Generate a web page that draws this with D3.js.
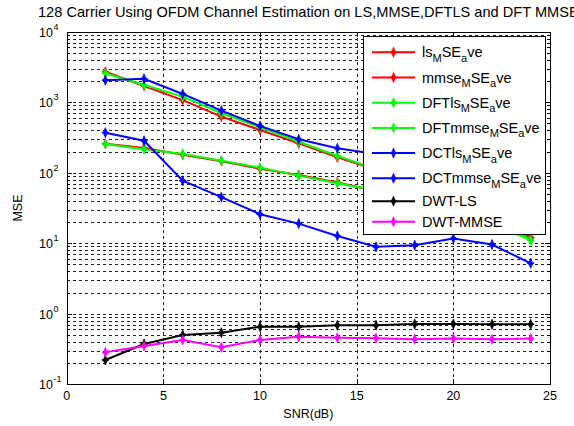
<!DOCTYPE html>
<html>
<head>
<meta charset="utf-8">
<script src="https://cdn.jsdelivr.net/npm/d3@7"></script>
<style>
  body { margin: 0; background: #fff; }
  svg text { font-family: "Liberation Sans", Arial, sans-serif; fill: #000; }
  .grid { stroke: #222; stroke-width: 1; stroke-dasharray: 3,3; shape-rendering: crispEdges; }
  .frame { fill: none; stroke: #000; stroke-width: 1; shape-rendering: crispEdges; }
</style>
</head>
<body>
<script>
// SNR values (dB)
var snr = [2, 4, 6, 8, 10, 12, 14, 16, 18, 20, 22, 24];

// MSE series
var lsMse      = [2700, 1700, 1070, 624, 404, 261, 165, 110, 70, 44, 26, 12];
var mmseMse    = [258, 225, 180, 146, 114, 93, 73, 55, 40, 30, 19, 12];
var dftLsMse   = [2570, 1750, 1200, 697, 440, 275, 173, 112, 72, 45, 27, 11];
var dftMmseMse = [255, 215, 185, 148, 118, 91, 71, 56, 41, 30, 19, 11];
var dctLsMse   = [2050, 2150, 1310, 760, 460, 298, 222, 185, 150, 115, 85, 60];
var dctMmseMse = [370, 284, 77, 45, 25.8, 19, 12.7, 8.9, 9.4, 11.7, 9.6, 5.2];
var dwtLs      = [0.221, 0.373, 0.5, 0.54, 0.656, 0.656, 0.687, 0.687, 0.716, 0.716, 0.71, 0.71];
var dwtMmse    = [0.284, 0.35, 0.425, 0.335, 0.425, 0.473, 0.458, 0.45, 0.434, 0.445, 0.434, 0.445];

// legend labels: [text, isSubscript] parts
var legendLabels = [
  [["ls", 0], ["M", 1], ["SE", 0], ["a", 1], ["ve", 0]],
  [["mmse", 0], ["M", 1], ["SE", 0], ["a", 1], ["ve", 0]],
  [["DFTls", 0], ["M", 1], ["SE", 0], ["a", 1], ["ve", 0]],
  [["DFTmmse", 0], ["M", 1], ["SE", 0], ["a", 1], ["ve", 0]],
  [["DCTls", 0], ["M", 1], ["SE", 0], ["a", 1], ["ve", 0]],
  [["DCTmmse", 0], ["M", 1], ["SE", 0], ["a", 1], ["ve", 0]],
  [["DWT-LS", 0]],
  [["DWT-MMSE", 0]]
];

var seriesList = [lsMse, mmseMse, dftLsMse, dftMmseMse, dctLsMse, dctMmseMse, dwtLs, dwtMmse];
var colors = ["#ff0000", "#ff0000", "#00ff00", "#00ff00", "#0000ff", "#0000ff", "#000000", "#ff00ff"];

var xTicks = [0, 5, 10, 15, 20, 25];
var yExps = [-1, 0, 1, 2, 3, 4];

drawChart();

function drawChart() {
    var W = 574, H = 426;
    var pl = 66.7, pr = 550, pt = 31.7, pb = 384.3;

    var svg = d3.select("body").append("svg")
        .attr("width", W)
        .attr("height", H);

    svg.append("rect").attr("width", W).attr("height", H).attr("fill", "#fff");

    var x = d3.scaleLinear().domain([0, 25]).range([pl, pr]);
    var y = d3.scaleLog().domain([0.1, 10000]).range([pb, pt]);

    // log grid values 1..9 per decade
    var minorVals = [];
    for (var e = -1; e < 4; e++) {
        for (var m = 1; m < 10; m++) minorVals.push(m * Math.pow(10, e));
    }
    minorVals.push(10000);

    var grid = svg.append("g");
    grid.selectAll("line.hg")
        .data(minorVals.filter(function (v) { return v > 0.1 && v < 10000; }))
        .enter().append("line")
        .attr("class", "grid")
        .attr("x1", pl).attr("x2", pr)
        .attr("y1", function (d) { return Math.round(y(d)) + 0.5; })
        .attr("y2", function (d) { return Math.round(y(d)) + 0.5; });

    grid.selectAll("line.vg")
        .data(xTicks.slice(1, -1))
        .enter().append("line")
        .attr("class", "grid")
        .attr("y1", pt).attr("y2", pb)
        .attr("x1", function (d) { return Math.round(x(d)) + 0.5; })
        .attr("x2", function (d) { return Math.round(x(d)) + 0.5; });

    // ticks (inside, both sides)
    var ticks = svg.append("g").attr("stroke", "#000").attr("shape-rendering", "crispEdges");
    minorVals.forEach(function (v) {
        var lv = Math.log10(v);
        var isMajor = Math.abs(lv - Math.round(lv)) < 1e-9;
        var len = isMajor ? 5 : 3;
        var yy = Math.round(y(v)) + 0.5;
        ticks.append("line").attr("x1", pl).attr("x2", pl + len).attr("y1", yy).attr("y2", yy);
        ticks.append("line").attr("x1", pr - len).attr("x2", pr).attr("y1", yy).attr("y2", yy);
    });
    xTicks.forEach(function (t) {
        var xx = Math.round(x(t)) + 0.5;
        ticks.append("line").attr("x1", xx).attr("x2", xx).attr("y1", pb).attr("y2", pb - 5);
        ticks.append("line").attr("x1", xx).attr("x2", xx).attr("y1", pt).attr("y2", pt + 5);
    });

    // frame
    svg.append("rect").attr("class", "frame")
        .attr("x", Math.round(pl) + 0.5).attr("y", Math.round(pt) + 0.5)
        .attr("width", Math.round(pr) - Math.round(pl))
        .attr("height", Math.round(pb) - Math.round(pt));

    // tick labels
    svg.selectAll("text.xt")
        .data(xTicks)
        .enter().append("text")
        .attr("x", function (d) { return x(d); })
        .attr("y", pb + 16)
        .attr("text-anchor", "middle")
        .attr("font-size", 12.5)
        .text(function (d) { return d; });

    yExps.forEach(function (ex) {
        var yy = y(Math.pow(10, ex));
        svg.append("text")
            .attr("x", 53)
            .attr("y", yy + 5)
            .attr("text-anchor", "end")
            .attr("font-size", 12.5)
            .text("10");
        svg.append("text")
            .attr("x", 53.5)
            .attr("y", yy - 2)
            .attr("font-size", 9)
            .text(ex);
    });

    // axis labels and title
    svg.append("text")
        .attr("x", (pl + pr) / 2)
        .attr("y", 418)
        .attr("text-anchor", "middle")
        .attr("font-size", 12.5)
        .text("SNR(dB)");

    svg.append("text")
        .attr("transform", "translate(22," + (pt + pb) / 2 + ") rotate(-90)")
        .attr("text-anchor", "middle")
        .attr("font-size", 12.5)
        .text("MSE");

    svg.append("text")
        .attr("x", (pl + pr) / 2)
        .attr("y", 17)
        .attr("text-anchor", "middle")
        .attr("font-size", 14.6)
        .text("128 Carrier Using OFDM Channel Estimation on LS,MMSE,DFTLS and DFT MMSE");

    // series
    var starPath = "M0,-5L1.4,-1.4L3.5,0L1.4,1.4L0,5L-1.4,1.4L-3.5,0L-1.4,-1.4Z";
    var line = d3.line()
        .x(function (d, i) { return x(snr[i]); })
        .y(function (d) { return y(d); });

    seriesList.forEach(function (vals, k) {
        var g = svg.append("g");
        g.append("path")
            .attr("d", line(vals))
            .attr("fill", "none")
            .attr("stroke", colors[k])
            .attr("stroke-width", 2);
        g.selectAll("path.mk")
            .data(vals)
            .enter().append("path")
            .attr("d", starPath)
            .attr("transform", function (d, i) { return "translate(" + x(snr[i]) + "," + y(d) + ")"; })
            .attr("fill", colors[k])
            .attr("stroke", colors[k])
            .attr("stroke-width", 0.8);
    });

    // legend
    var lg = svg.append("g");
    lg.append("rect")
        .attr("x", 363.5).attr("y", 36.5)
        .attr("width", 182).attr("height", 198)
        .attr("fill", "#fff").attr("stroke", "#000")
        .attr("shape-rendering", "crispEdges");

    var rowY = 52.3;
    legendLabels.forEach(function (parts, k) {
        var hasSub = parts.length > 1;
        if (k > 0) rowY += (hasSub ? 25.2 : (legendLabels[k - 1].length > 1 ? 22.9 : 20.5));
        lg.append("line")
            .attr("x1", 372).attr("x2", 415)
            .attr("y1", rowY).attr("y2", rowY)
            .attr("stroke", colors[k]).attr("stroke-width", 2);
        lg.append("path")
            .attr("d", starPath)
            .attr("transform", "translate(393.5," + rowY + ")")
            .attr("fill", colors[k]).attr("stroke", colors[k]).attr("stroke-width", 0.8);
        var t = lg.append("text")
            .attr("x", 422)
            .attr("y", rowY + 5)
            .attr("font-size", 14.5);
        var shift = 0;
        parts.forEach(function (p) {
            var want = p[1] ? 4.5 : 0;
            t.append("tspan")
                .attr("dy", want - shift)
                .attr("font-size", p[1] ? 11 : 14.5)
                .text(p[0]);
            shift = want;
        });
    });
}
</script>
</body>
</html>
